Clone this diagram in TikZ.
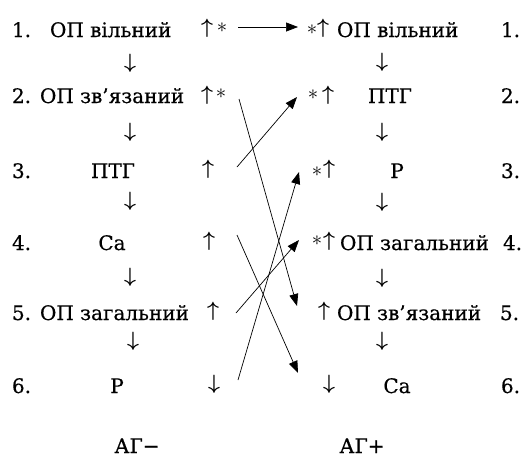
\documentclass[tikz,border=0pt]{standalone}
\usepackage{fontspec}
\setmainfont{DejaVu Serif}[FakeBold=0.5]
\usetikzlibrary{arrows.meta}
\begin{document}
\begin{tikzpicture}[x=1pt,y=-1pt,
  every node/.style={inner sep=0pt, outer sep=0pt, font=\fontsize{20}{22}\selectfont},
  txt/.style={anchor=base west},
  ctr/.style={anchor=base},
  arw/.style={anchor=center, font=\fontsize{21}{22}\selectfont\boldmath},
  star/.style={anchor=center, font=\fontsize{20}{22}\selectfont},
  conn/.style={line width=0.7pt, -{Triangle[length=12pt,width=9pt]}}]
\useasboundingbox (0,0) rectangle (524,464);
% ---------- left column ----------
\node[txt] (ln1) at (12,37) {1.};
\node[txt] (lt1) at (50,37) {ОП вільний};
\node[arw] (lu1) at (207,28.5) {$\uparrow$};
\node[star] (ls1) at (222,28) {$\ast$};
\node[arw] (ld1) at (130,63) {$\downarrow$};
\node[txt] (ln2) at (12,103) {2.};
\node[txt] (lt2) at (40,103) {ОП зв’язаний};
\node[arw] (lu2) at (207,95) {$\uparrow$};
\node[star] (ls2) at (221,94) {$\ast$};
\node[arw] (ld2) at (130,132) {$\downarrow$};
\node[txt] (ln3) at (12,178) {3.};
\node[ctr] (lt3) at (113,178) {ПТГ};
\node[arw] (lu3) at (208,169.5) {$\uparrow$};
\node[arw] (ld3) at (130,201) {$\downarrow$};
\node[txt] (ln4) at (12,250) {4.};
\node[ctr] (lt4) at (112,250) {Ca};
\node[arw] (lu4) at (209,241.5) {$\uparrow$};
\node[arw] (ld4) at (130,277) {$\downarrow$};
\node[txt] (ln5) at (12,320) {5.};
\node[txt] (lt5) at (40,320) {ОП загальний};
\node[arw] (lu5) at (213,311.5) {$\uparrow$};
\node[arw] (ld5) at (133,341) {$\downarrow$};
\node[txt] (ln6) at (12,393) {6.};
\node[ctr] (lt6) at (117,393) {Р};
\node[arw] (lu6) at (214,384.5) {$\downarrow$};
\node[ctr] (lab1) at (137,453) {АГ−};
% ---------- right column ----------
\node[star] (rs1) at (312,30) {$\ast$};
\node[arw] (ru1) at (323,28.5) {$\uparrow$};
\node[txt] (rt1) at (337,37) {ОП вільний};
\node[txt] (rn1) at (501,37) {1.};
\node[arw] (rd1) at (382,62) {$\downarrow$};
\node[star] (rs2) at (313,95) {$\ast$};
\node[arw] (ru2) at (328,95) {$\uparrow$};
\node[ctr] (rt2) at (390,103) {ПТГ};
\node[txt] (rn2) at (501,103) {2.};
\node[arw] (rd2) at (382,132) {$\downarrow$};
\node[star] (rs3) at (317,172) {$\ast$};
\node[arw] (ru3) at (329,169.5) {$\uparrow$};
\node[ctr] (rt3) at (397,178) {Р};
\node[txt] (rn3) at (501,178) {3.};
\node[arw] (rd3) at (382,202) {$\downarrow$};
\node[star] (rs4) at (317,241) {$\ast$};
\node[arw] (ru4) at (329,241.5) {$\uparrow$};
\node[txt] (rt4) at (340,250) {ОП загальний};
\node[txt] (rn4) at (503,250) {4.};
\node[arw] (rd4) at (382,278) {$\downarrow$};
\node[arw] (ru5) at (324,311.5) {$\uparrow$};
\node[txt] (rt5) at (337,320) {ОП зв’язаний};
\node[txt] (rn5) at (500,320) {5.};
\node[arw] (rd5) at (382,341) {$\downarrow$};
\node[arw] (ru6) at (329,384.5) {$\downarrow$};
\node[ctr] (rt6) at (397,393) {Ca};
\node[txt] (rn6) at (501,393) {6.};
\node[ctr] (lab2) at (362,453) {АГ+};
% ---------- connector ports ----------
\coordinate (Lp1) at (238,27);
\coordinate (Lp2) at (239,99);
\coordinate (Lp3) at (237,167);
\coordinate (Lp4) at (237,235);
\coordinate (Lp5) at (236,313);
\coordinate (Lp6) at (238,380);
\coordinate (Rp1) at (298,27);
\coordinate (Rp2) at (297,97);
\coordinate (Rp3) at (299,172);
\coordinate (Rp4) at (299,240);
\coordinate (Rp5) at (297,306);
\coordinate (Rp6) at (298,373);
% ---------- connectors ----------
\draw[conn] (Lp1) -- (Rp1);
\draw[conn] (Lp2) -- (Rp5);
\draw[conn] (Lp3) -- (Rp2);
\draw[conn] (Lp4) -- (Rp6);
\draw[conn] (Lp5) -- (Rp4);
\draw[conn] (Lp6) -- (Rp3);
\end{tikzpicture}
\end{document}
